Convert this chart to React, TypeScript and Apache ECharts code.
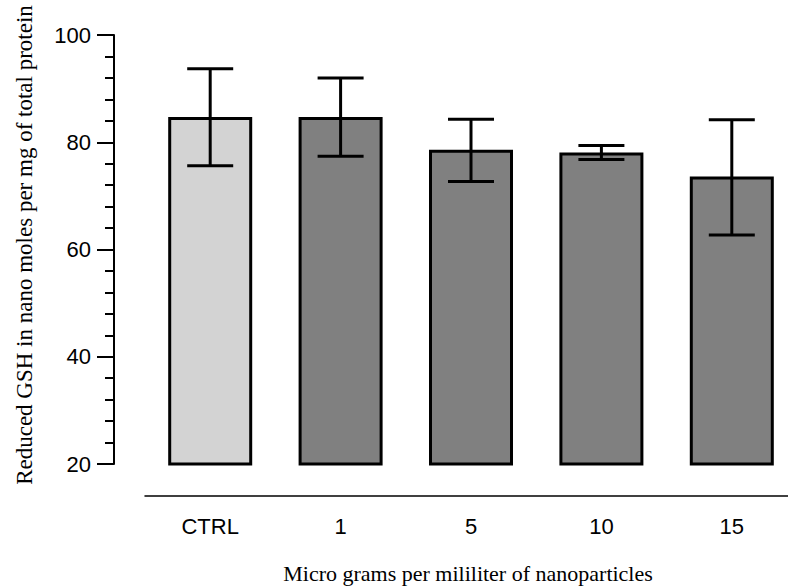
import React, { useEffect, useRef } from "react";
import * as echarts from "echarts";

// Dose groups and reduced GSH measurements (mean with lower/upper error limits)
const categories = ["CTRL", "1", "5", "10", "15"];
const meanValues = [84.7, 84.7, 78.6, 78.1, 73.6];
const errorLow = [75.6, 77.4, 72.7, 76.8, 62.7];
const errorHigh = [93.7, 92.0, 84.3, 79.4, 84.2];
const barColors = ["#d3d3d3", "#808080", "#808080", "#808080", "#808080"];

const yTitle = "Reduced GSH in nano moles per mg of total protein";
const xTitle = "Micro grams per mililiter of nanoparticles";

const SANS = "'Liberation Sans', Arial, sans-serif";
const SERIF = "'Liberation Serif', 'Times New Roman', serif";

export default function App() {
  const ref = useRef<HTMLDivElement>(null);

  useEffect(() => {
    if (!ref.current) return;
    const chart = echarts.init(ref.current, null, { renderer: "svg" });

    const errorData = categories.map((_, i) => [i, errorLow[i], errorHigh[i]]);

    chart.setOption({
      animation: false,
      backgroundColor: "#ffffff",
      // the category axis runs past the right edge of the visible area
      grid: { left: 145, top: 35, width: 652, height: 429 },
      xAxis: {
        type: "category",
        data: categories,
        offset: 32,
        axisLine: { lineStyle: { color: "#000", width: 1.5 } },
        axisTick: { alignWithLabel: true, length: 17, lineStyle: { color: "#000", width: 1.5 } },
        axisLabel: { color: "#000", fontFamily: SANS, fontSize: 22, margin: 19 },
      },
      yAxis: {
        type: "value",
        min: 20,
        max: 100,
        interval: 20,
        offset: 31,
        axisLine: { show: true, lineStyle: { color: "#000", width: 2 } },
        axisTick: { show: true, length: 17, lineStyle: { color: "#000", width: 2 } },
        minorTick: { show: true, splitNumber: 5, length: 9, lineStyle: { color: "#000", width: 2 } },
        splitLine: { show: false },
        axisLabel: { color: "#000", fontFamily: SANS, fontSize: 22, margin: 23 },
      },
      series: [
        {
          type: "bar",
          barWidth: 84,
          data: meanValues.map((v, i) => ({
            value: v,
            itemStyle: { color: barColors[i], borderColor: "#000", borderWidth: 3 },
          })),
        },
        {
          type: "custom",
          data: errorData,
          z: 10,
          renderItem: (params: any, api: any) => {
            const idx = api.value(0);
            const lo = api.coord([idx, api.value(1)]);
            const hi = api.coord([idx, api.value(2)]);
            const half = 23;
            const style = { stroke: "#000", lineWidth: 3 };
            return {
              type: "group",
              children: [
                { type: "line", shape: { x1: hi[0], y1: hi[1], x2: lo[0], y2: lo[1] }, style },
                { type: "line", shape: { x1: hi[0] - half, y1: hi[1], x2: hi[0] + half, y2: hi[1] }, style },
                { type: "line", shape: { x1: lo[0] - half, y1: lo[1], x2: lo[0] + half, y2: lo[1] }, style },
              ],
            };
          },
        },
      ],
      graphic: [
        {
          type: "text",
          x: 24,
          y: 245,
          rotation: Math.PI / 2,
          style: {
            text: yTitle,
            fill: "#000",
            font: `23px ${SERIF}`,
            textAlign: "center",
            textVerticalAlign: "middle",
          },
        },
        {
          type: "text",
          x: 468,
          y: 573,
          style: {
            text: xTitle,
            fill: "#000",
            font: `22px ${SERIF}`,
            textAlign: "center",
            textVerticalAlign: "middle",
          },
        },
      ],
    });

    return () => chart.dispose();
  }, []);

  return (
    <div style={{ width: 788, height: 586, position: "absolute", left: 0, top: 0, overflow: "hidden" }}>
      <div ref={ref} style={{ width: 820, height: 586 }} />
    </div>
  );
}
